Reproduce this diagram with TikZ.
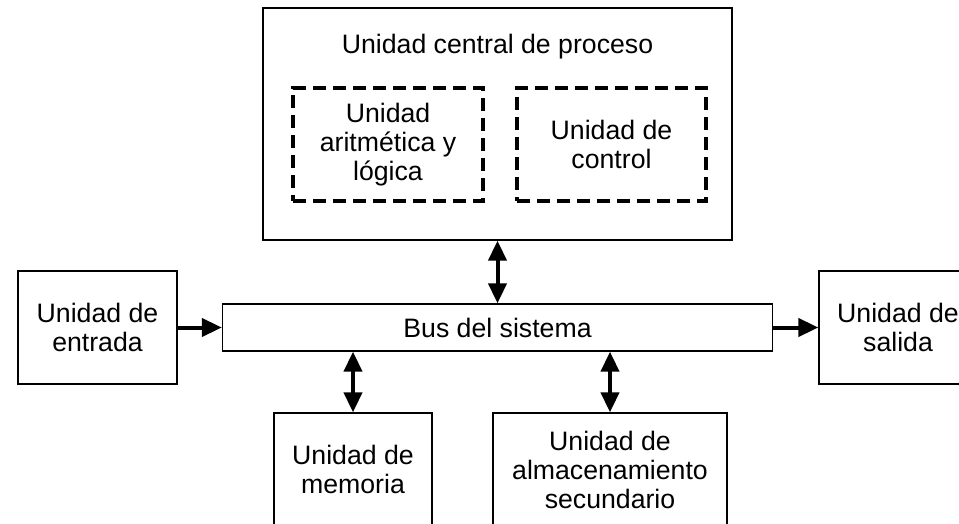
\documentclass[tikz,border=0pt]{standalone}
\usepackage{fontspec}
\setmainfont{Liberation Sans}
\usetikzlibrary{arrows.meta}
\begin{document}
\begin{tikzpicture}[x=0.75pt,y=-0.75pt,
  txt/.style={font=\fontsize{20}{21.75}\selectfont, align=center},
  unitbox/.style={draw, line width=1pt, rectangle, inner sep=0pt, txt},
  dashbox/.style={draw, line width=2.3pt, dash pattern=on 10pt off 5pt, rectangle, inner sep=0pt, txt},
  link/.style={line width=3pt, -{Triangle[length=15pt,width=13.5pt]}},
  dlink/.style={line width=3pt, {Triangle[length=15pt,width=13.5pt]}-{Triangle[length=15pt,width=13.5pt]}}
]
\useasboundingbox (0,0) rectangle (959,524);
\fill[white] (0,0) rectangle (959,524);
% CPU
\node[unitbox, minimum width=469*0.75pt, minimum height=232*0.75pt] (cpu) at (497.5,124) {};
\node[txt] (cputitle) at (497.5,47) {Unidad central de proceso};
\node[dashbox, minimum width=190*0.75pt, minimum height=113*0.75pt] (alu) at (388,144.5) {Unidad\\aritmética y\\lógica};
\node[dashbox, minimum width=189*0.75pt, minimum height=113*0.75pt] (cu) at (611.5,144.5) {Unidad de\\control};
% Bus
\node[unitbox, minimum width=550*0.75pt, minimum height=47*0.75pt] (bus) at (497.5,327.5) {Bus del sistema};
% Input / output
\node[unitbox, minimum width=159*0.75pt, minimum height=113*0.75pt] (in) at (97.5,327.5) {Unidad de\\entrada};
\node[unitbox, minimum width=158*0.75pt, minimum height=113*0.75pt] (out) at (898,327.5) {Unidad de\\salida};
% Memory / storage
\node[unitbox, minimum width=158*0.75pt, minimum height=113*0.75pt] (mem) at (353,469.5) {Unidad de\\memoria};
\node[unitbox, minimum width=234*0.75pt, minimum height=113*0.75pt] (sto) at (610,469.5) {Unidad de\\almacenamiento\\secundario};
% Connectors
\draw[dlink] (cpu.south) -- (bus.north);
\draw[dlink] (bus.south -| mem.north) -- (mem.north);
\draw[dlink] (bus.south -| sto.north) -- (sto.north);
\draw[link] (in.east) -- (bus.west);
\draw[link] (bus.east) -- (out.west);
\end{tikzpicture}
\end{document}
